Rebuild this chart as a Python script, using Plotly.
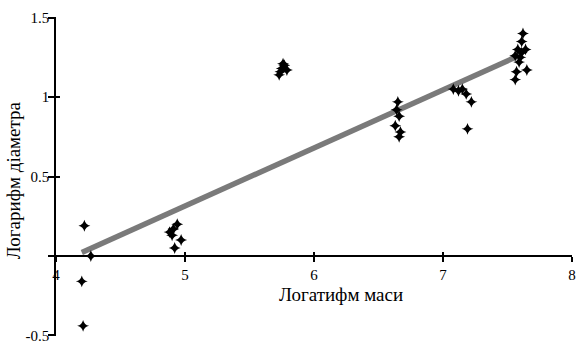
import plotly.graph_objects as go

# Observed points (log mass, log diameter)
log_mass = [4.22, 4.20, 4.21, 4.27,
            4.88, 4.90, 4.92, 4.94, 4.97, 4.91,
            5.73, 5.75, 5.77, 5.79, 5.74, 5.76,
            6.65, 6.64, 6.66, 6.63, 6.67, 6.66,
            7.08, 7.12, 7.15, 7.18, 7.22, 7.19,
            7.62, 7.61, 7.58, 7.61, 7.64, 7.56, 7.59, 7.57, 7.65, 7.56, 7.60]
log_diam = [0.19, -0.16, -0.44, 0.00,
            0.15, 0.13, 0.05, 0.20, 0.10, 0.17,
            1.14, 1.18, 1.20, 1.17, 1.16, 1.21,
            0.97, 0.92, 0.88, 0.82, 0.78, 0.75,
            1.05, 1.04, 1.05, 1.02, 0.97, 0.80,
            1.40, 1.35, 1.30, 1.28, 1.30, 1.26, 1.22, 1.16, 1.17, 1.11, 1.25]

# Trend line endpoints
trend_x = [4.20, 7.60]
trend_y = [0.022, 1.265]

x_ticks = [4, 5, 6, 7, 8]
y_ticks = [-0.5, 0, 0.5, 1, 1.5]
y_ticktext = ["-0.5", "", "0.5", "1", "1.5"]

x_title = "Логатифм маси"
y_title = "Логарифм діаметра"

font_fam = "Liberation Serif"
y_range = [-0.504, 1.504]

fig = go.Figure()
fig.add_trace(go.Scatter(x=trend_x, y=trend_y, mode="lines",
                         line=dict(color="#7a7a7a", width=5.5), showlegend=False))
fig.add_trace(go.Scatter(x=log_mass, y=log_diam, mode="markers",
                         marker=dict(symbol="star-diamond", size=8.5, color="black"),
                         showlegend=False))
# invisible trace to host overlay axes (inner half of the crossing ticks)
fig.add_trace(go.Scatter(x=[None], y=[None], xaxis="x2", yaxis="y2",
                         showlegend=False, hoverinfo="skip"))

axis_common = dict(showgrid=False, zeroline=False, linecolor="black", linewidth=1.5,
                   tickcolor="black", tickwidth=1.5, ticklabeloverflow="allow",
                   automargin=False,
                   tickfont=dict(family=font_fam, size=15, color="black"))

fig.update_layout(
    width=580, height=343,
    margin=dict(l=56, r=8, t=17, b=7),
    paper_bgcolor="white", plot_bgcolor="white",
    xaxis=dict(range=[4, 8], tickvals=x_ticks, anchor="free", position=0.25,
               showline=True, ticks="outside", ticklen=5, **axis_common),
    yaxis=dict(range=y_range, tickvals=y_ticks, ticktext=y_ticktext,
               showline=True, ticks="outside", ticklen=6, ticklabelstandoff=-4,
               **axis_common),
    xaxis2=dict(range=[4, 8], tickvals=x_ticks, overlaying="x", anchor="free",
                position=0.25, showline=False, showgrid=False, zeroline=False,
                ticks="inside", ticklen=4, tickcolor="black", tickwidth=1.5,
                showticklabels=False, automargin=False),
    yaxis2=dict(range=y_range, tickvals=y_ticks, overlaying="y",
                showline=False, showgrid=False, zeroline=False,
                ticks="inside", ticklen=4, tickcolor="black", tickwidth=1.5,
                showticklabels=False, automargin=False),
    annotations=[
        dict(text=x_title, xref="paper", yref="paper", x=0.552, y=0.13,
             showarrow=False, xanchor="center", yanchor="middle",
             font=dict(family=font_fam, size=19, color="black")),
        dict(text=y_title, xref="paper", yref="paper", x=-0.083, y=0.489,
             showarrow=False, xanchor="center", yanchor="middle", textangle=-90,
             font=dict(family=font_fam, size=19, color="black")),
    ],
)

fig.write_html("out.html")
